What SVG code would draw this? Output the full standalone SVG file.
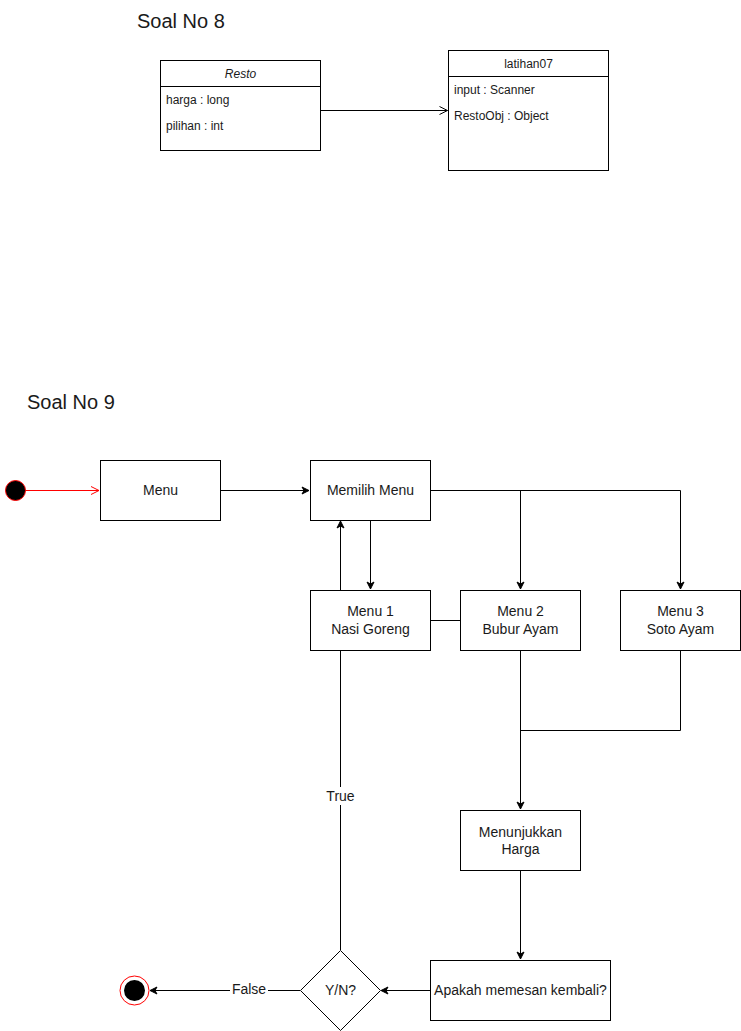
<svg xmlns="http://www.w3.org/2000/svg" width="741" height="1031" viewBox="0 0 741 1031">
<style>
text{font-family:"Liberation Sans",Arial,sans-serif;font-size:14px;fill:#1a1a1a}
.c{text-anchor:middle}
.u{font-size:12px}
.box{fill:#fff;stroke:#000;stroke-width:1}
.ln{fill:none;stroke:#000;stroke-width:1}
.title{font-size:20px}
</style>
<defs>
<marker id="a" markerWidth="10" markerHeight="10" refX="8" refY="5" orient="auto" markerUnits="userSpaceOnUse">
<path d="M1,1.5 L8,5 L1,8.5 L3,5 Z" fill="#000" stroke="#000" stroke-width="1"/>
</marker>
<marker id="o" markerWidth="12" markerHeight="12" refX="10" refY="6" orient="auto" markerUnits="userSpaceOnUse">
<path d="M2,2 L10,6 L2,10" fill="none" stroke="#000" stroke-width="1"/>
</marker>
<marker id="or" markerWidth="12" markerHeight="12" refX="10" refY="6" orient="auto" markerUnits="userSpaceOnUse">
<path d="M2,2 L10,6 L2,10" fill="none" stroke="#ff0000" stroke-width="1"/>
</marker>
</defs>
<rect width="741" height="1031" fill="#fff"/>
<text class="title" x="137" y="28">Soal No 8</text>
<text class="title" x="27" y="409">Soal No 9</text>

<g id="connectors">
<path class="ln" d="M320.5,110.5 L447.5,110.5" marker-end="url(#o)"/>
<path d="M25,490.5 L99,490.5" fill="none" stroke="#ff0000" stroke-width="1" marker-end="url(#or)"/>
<path class="ln" d="M220,490.5 L309,490.5" marker-end="url(#a)"/>
<path class="ln" d="M430,490.5 L680.5,490.5 L680.5,589" marker-end="url(#a)"/>
<path class="ln" d="M520.5,490.5 L520.5,589" marker-end="url(#a)"/>
<path class="ln" d="M370.5,520 L370.5,589" marker-end="url(#a)"/>
<path class="ln" d="M340.5,590 L340.5,521" marker-end="url(#a)"/>
<path class="ln" d="M340.5,950 L340.5,650"/>
<path class="ln" d="M430,620.5 L460,620.5"/>
<path class="ln" d="M520.5,650 L520.5,809" marker-end="url(#a)"/>
<path class="ln" d="M680.5,650 L680.5,730.5 L520.5,730.5"/>
<path class="ln" d="M520.5,870 L520.5,959" marker-end="url(#a)"/>
<path class="ln" d="M430,990.5 L381,990.5" marker-end="url(#a)"/>
<path class="ln" d="M300,990.5 L150,990.5" marker-end="url(#a)"/>
<rect x="323" y="787" width="35" height="18" fill="#fff"/>
<text class="c" x="340.5" y="801">True</text>
<rect x="230" y="981" width="38" height="18" fill="#fff"/>
<text class="c" x="249" y="994">False</text>
</g>

<g id="resto">
<rect class="box" x="160.5" y="60.5" width="160" height="90"/>
<line class="ln" x1="160.5" y1="86.5" x2="320.5" y2="86.5"/>
<text class="c u" x="240.5" y="78" font-style="italic">Resto</text>
<text class="u" x="166" y="104">harga : long</text>
<text class="u" x="166" y="130">pilihan : int</text>
</g>
<g id="latihan07">
<rect class="box" x="448.5" y="50.5" width="160" height="120"/>
<line class="ln" x1="448.5" y1="76.5" x2="608.5" y2="76.5"/>
<text class="c u" x="528.5" y="68">latihan07</text>
<text class="u" x="454" y="94">input : Scanner</text>
<text class="u" x="454" y="120">RestoObj : Object</text>
</g>

<g id="start"><circle cx="15.5" cy="490.5" r="10" fill="#000" stroke="#ff0000" stroke-width="1"/></g>
<g id="menu"><rect class="box" x="100.5" y="460.5" width="120" height="60"/><text class="c" x="160.5" y="495">Menu</text></g>
<g id="memilih"><rect class="box" x="310.5" y="460.5" width="120" height="60"/><text class="c" x="370.5" y="495">Memilih Menu</text></g>
<g id="menu1"><rect class="box" x="310.5" y="590.5" width="120" height="60"/><text class="c" x="370.5" y="616">Menu 1</text><text class="c" x="370.5" y="634">Nasi Goreng</text></g>
<g id="menu2"><rect class="box" x="460.5" y="590.5" width="120" height="60"/><text class="c" x="520.5" y="616">Menu 2</text><text class="c" x="520.5" y="634">Bubur Ayam</text></g>
<g id="menu3"><rect class="box" x="620.5" y="590.5" width="120" height="60"/><text class="c" x="680.5" y="616">Menu 3</text><text class="c" x="680.5" y="634">Soto Ayam</text></g>
<g id="harga"><rect class="box" x="460.5" y="810.5" width="120" height="60"/><text class="c" x="520.5" y="837">Menunjukkan</text><text class="c" x="520.5" y="854">Harga</text></g>
<g id="apakah"><rect class="box" x="430.5" y="960.5" width="180" height="60"/><text class="c" x="520.5" y="995">Apakah memesan kembali?</text></g>
<g id="yn"><path class="box" d="M340.5,950.5 L380.5,990.5 L340.5,1030.5 L300.5,990.5 Z"/><text class="c" x="340.5" y="995">Y/N?</text></g>
<g id="end"><circle cx="134.5" cy="990.5" r="14.5" fill="#fff" stroke="#ff0000" stroke-width="1"/><circle cx="134.5" cy="990.5" r="10.5" fill="#000"/></g>
</svg>
